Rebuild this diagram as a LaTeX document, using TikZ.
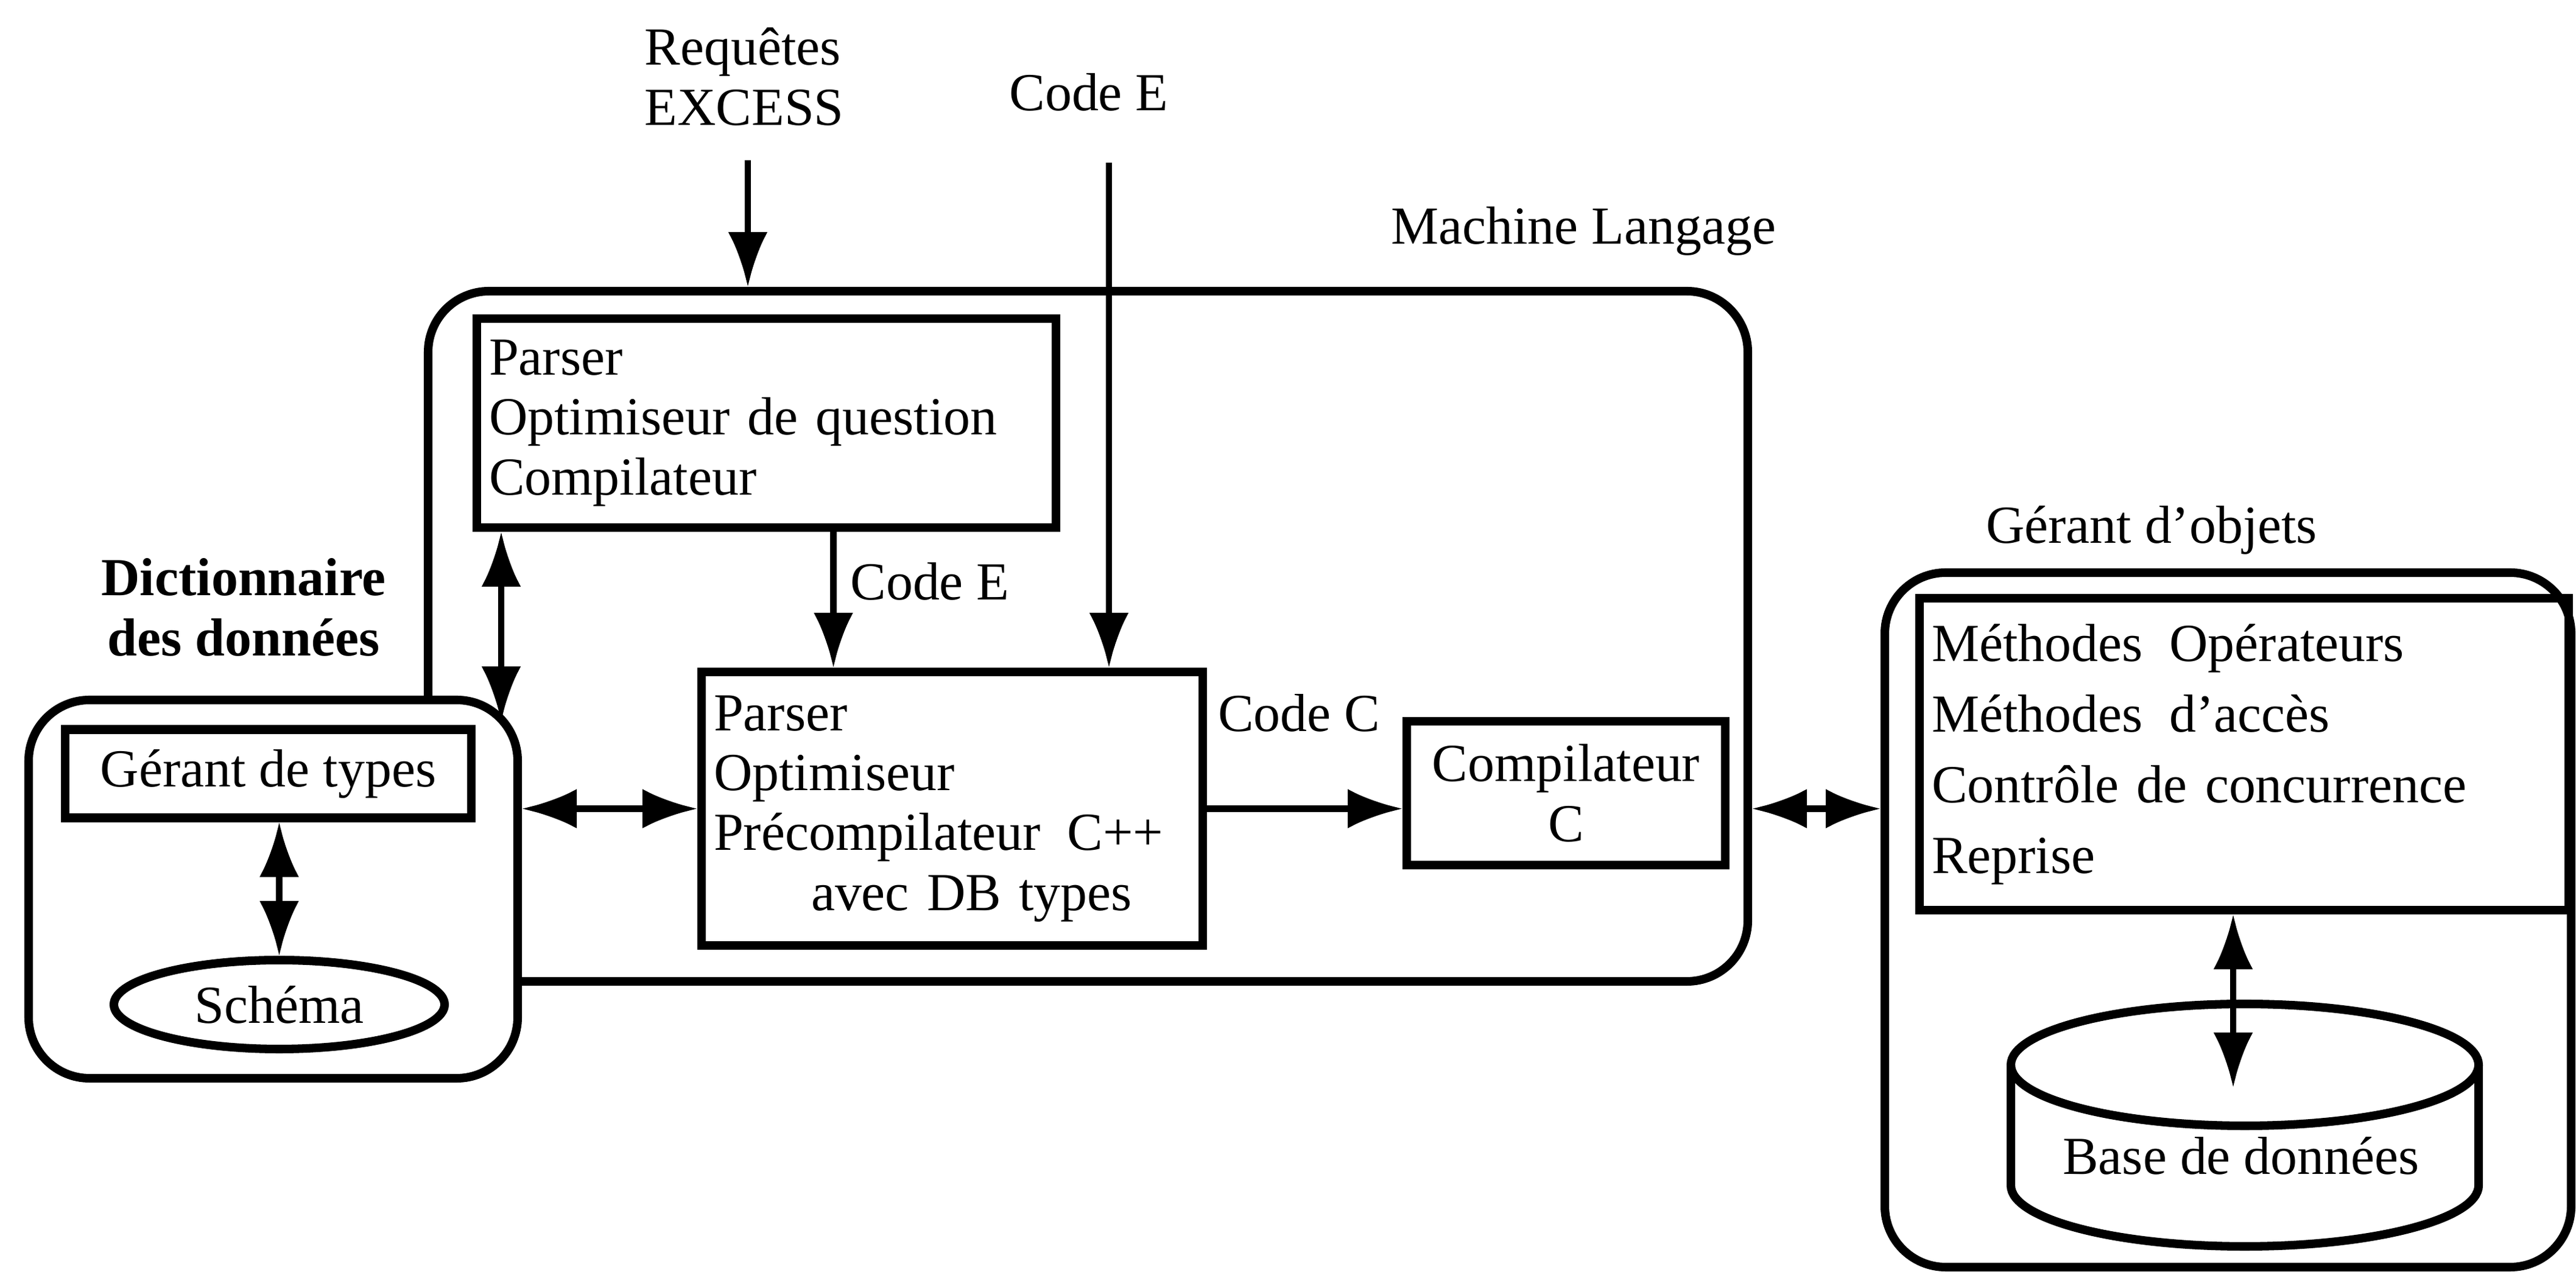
\documentclass[tikz,border=0pt]{standalone}
\usepackage{fontspec}
\setmainfont{Liberation Serif}
\usetikzlibrary{arrows.meta,shapes.geometric}
\newcommand\diagfont{\fontsize{25}{28}\selectfont}
\tikzset{
  frame/.style={draw,line width=4pt,rounded corners=1cm,fill=white},
  box/.style={draw,line width=4pt,align=left,inner xsep=0.2cm},
  lbl/.style={inner sep=0pt},
  fl/.style={line width=3pt,-{Latex[length=9mm,width=6.5mm]}},
  dbl/.style={line width=3pt,{Latex[length=9mm,width=6.5mm]}-{Latex[length=9mm,width=6.5mm]}}
}
\begin{document}
\begin{tikzpicture}[font=\diagfont]
\useasboundingbox (0,0) rectangle (42.3,20.88);
\node [frame,minimum width=21.67cm,minimum height=11.33cm,name=ml] at (17.865,10.435){};
\node [frame,minimum width=8.03cm,minimum height=6.21cm,name=dico] at (4.485,6.285){};
\node [frame,minimum width=11.27cm,minimum height=11.40cm,name=go] at (36.585,5.78){};
\node [box,align=center,minimum width=6.67cm,minimum height=1.45cm,name=types] at (4.405,8.18){Gérant de types};
\node [draw,ellipse,line width=4pt,minimum width=5.43cm,minimum height=1.46cm,name=schema] at (4.585,4.39){Schéma};
\node [box,text width=9.11cm,minimum height=3.43cm,name=topbox] at (12.585,13.935){Parser\\Optimiseur de question\\Compilateur};
\node [box,text width=7.83cm,minimum height=4.49cm,name=mid] at (15.635,7.605){Parser\\Optimiseur\\Précompilateur\enspace C++\\\hspace*{1.6cm}avec DB types};
\node [box,align=center,minimum width=5.23cm,minimum height=2.36cm,name=compC] at (25.715,7.86){Compilateur\\C};
\node [box,text width=10.26cm,minimum height=5.12cm,font=\fontsize{25}{33}\selectfont,name=ops] at (36.85,8.50){Méthodes\enspace Opérateurs\\Méthodes\enspace d'accès\\Contrôle de concurrence\\Reprise};
\draw [line width=4pt] (33.02,3.40) -- (33.02,1.42) arc [start angle=180,end angle=360,x radius=3.84cm,y radius=1cm] -- (40.70,3.40);
\draw [line width=4pt] (36.86,3.40) ellipse [x radius=3.84cm,y radius=1cm];
\node [lbl,name=db] at (36.80,1.91){Base de données};
\node [lbl,align=left,anchor=west,name=req] at (10.58,19.62){Requêtes\\EXCESS};
\node [lbl,name=codeE] at (17.88,19.37){Code E};
\node [lbl,name=mlLabel] at (26.0,17.08){Machine Langage};
\node [lbl,align=center,font=\diagfont\bfseries,name=dicoLabel] at (4.0,10.91){Dictionnaire\\des données};
\node [lbl,name=goLabel] at (35.33,12.18){Gérant d'objets};
\node [lbl,name=codeEmid] at (15.27,11.34){Code E};
\node [lbl,name=codeC] at (21.33,9.18){Code C};
\coordinate (reqIn) at (12.28,18.25);
\coordinate (codeIn) at (18.21,18.21);
\coordinate (dicoTip) at (8.23,9.04);
\coordinate (dbTop) at (36.67,3.03);
\draw [fl] (reqIn) -- (reqIn |- ml.north);
\draw [fl] (codeIn) -- (codeIn |- mid.north);
\draw [fl] ([xshift=1.1cm]topbox.south) -- ([xshift=1.1cm]topbox.south |- mid.north);
\draw [dbl] (dicoTip |- topbox.south) -- (dicoTip);
\draw [dbl] (mid.west -| dico.east) -- (mid.west);
\draw [fl] (mid.east) -- (mid.east -| compC.west);
\draw [dbl] (mid.east -| ml.east) -- (mid.east -| go.west);
\draw [dbl] (types.south -| schema.north) -- (schema.north);
\draw [dbl] (dbTop |- ops.south) -- (dbTop);
\end{tikzpicture}
\end{document}
